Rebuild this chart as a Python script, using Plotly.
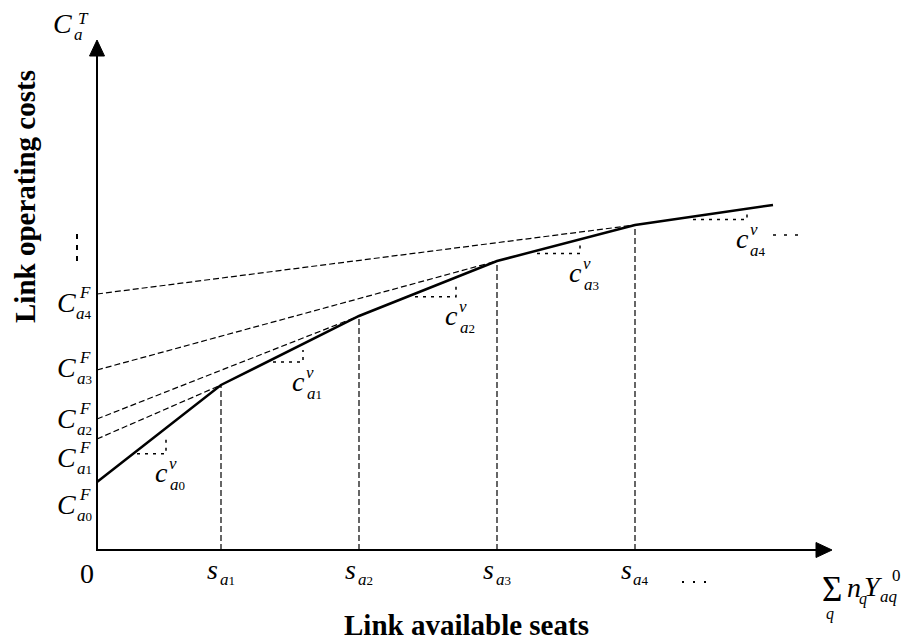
import plotly.graph_objects as go

# ---------------- data (diagram units: 1 unit = 1 px) ----------------
seat_points = [0, 124, 262, 400, 538, 676]        # 0, s_a1..s_a4, end of curve
cost_points = [68, 165, 234, 289, 325, 345]       # total cost at each breakpoint
fixed_costs = [68, 111, 131, 180, 256]            # C_a0^F .. C_a4^F (intercepts)
segment_ids = ["0", "1", "2", "3", "4"]           # subscripts of c_a^v / C_a^F
break_ids = ["1", "2", "3", "4"]                  # subscripts of s_a

# ---------------- layout / style ----------------
PAGE_OFF = 8                 # browser body margin
W, H = 909 - PAGE_OFF, 642 - PAGE_OFF
SX, SY = 97, 550             # screen pixel position of the origin
OX, OY = SX - PAGE_OFF, SY - PAGE_OFF
FONT = "Liberation Serif, Times New Roman, serif"
X_END, Y_END = 735, 510      # axis arrow tips (diagram units)


def X(px):
    return px - SX


def Y(py):
    return SY - py


fig = go.Figure()
ann = []
shapes = []


def text(px, py, s, size, bold=False, angle=0):
    ann.append(dict(x=X(px), y=Y(py), xref="x", yref="y", text=s, showarrow=False,
                    xanchor="center", yanchor="middle", textangle=angle,
                    font=dict(family=FONT, size=size, color="black",
                              weight="bold" if bold else "normal")))


def sub_label(px, py, letter, digit):
    s = "<i>%s</i>" % letter
    if digit:
        s += "<span style='font-size:13px'>%s</span>" % digit
    text(px, py, s, 17)


DASH = dict(color="black", width=1.2, dash="6px,3px")

# ---- main piecewise cost curve ----
fig.add_trace(go.Scatter(x=seat_points, y=cost_points, mode="lines",
                         line=dict(color="black", width=2.5), hoverinfo="skip"))

# ---- dashed lines from fixed-cost intercepts to breakpoints ----
for k in range(1, 5):
    fig.add_trace(go.Scatter(x=[0, seat_points[k]], y=[fixed_costs[k], cost_points[k]],
                             mode="lines", hoverinfo="skip", line=DASH))

# ---- vertical dashed lines at breakpoints ----
for k in range(1, 5):
    fig.add_trace(go.Scatter(x=[seat_points[k], seat_points[k]], y=[0, cost_points[k]],
                             mode="lines", hoverinfo="skip", line=DASH))

# ---- slope hint triangles (dotted) ----
hint_start = [40, 52, 56, 40, 58]
hint_run = [29, 30, 41, 43, 54]
for k in range(5):
    x0, x1 = seat_points[k], seat_points[k + 1]
    y0, y1 = cost_points[k], cost_points[k + 1]
    slope = (y1 - y0) / (x1 - x0)
    xa = x0 + hint_start[k]
    xb = xa + hint_run[k]
    ya = y0 + slope * hint_start[k] - 3
    yb = ya + 0.8 * slope * hint_run[k]
    fig.add_trace(go.Scatter(x=[xa, xb, xb], y=[ya, ya, yb], mode="lines", hoverinfo="skip",
                             line=dict(color="black", width=1.5, dash="3px,5px")))
    # label c_a^v
    cx, cy = xb + SX - 5, SY - ya + 22
    text(cx, cy - 3, "<i>c</i>", 28)
    text(cx + 12, cy - 12, "<i>v</i>", 17)
    sub_label(cx + 16, cy + 9, "a", segment_ids[k])

# ---- axes with arrow heads ----
shapes.append(dict(type="line", xref="x", yref="y", x0=-1, y0=0, x1=X_END - 15, y1=0,
                   line=dict(color="black", width=2)))
shapes.append(dict(type="path", xref="x", yref="y",
                   path="M %d,0 L %d,7.5 L %d,-7.5 Z" % (X_END, X_END - 16, X_END - 16),
                   fillcolor="black", line=dict(color="black", width=1)))
shapes.append(dict(type="line", xref="x", yref="y", x0=0, y0=-1, x1=0, y1=Y_END - 15,
                   line=dict(color="black", width=2)))
shapes.append(dict(type="path", xref="x", yref="y",
                   path="M 0,%d L -7.5,%d L 7.5,%d Z" % (Y_END, Y_END - 16, Y_END - 16),
                   fillcolor="black", line=dict(color="black", width=1)))

# ---- ellipses ----
shapes.append(dict(type="line", xref="x", yref="y", x0=X(77), y0=Y(234), x1=X(77), y1=Y(262),
                   line=dict(color="black", width=2, dash="5px,6px")))
shapes.append(dict(type="line", xref="x", yref="y", x0=X(682), y0=Y(582), x1=X(707), y1=Y(582),
                   line=dict(color="black", width=2, dash="2px,9px")))
shapes.append(dict(type="line", xref="x", yref="y", x0=X(773), y0=Y(235), x1=X(799), y1=Y(235),
                   line=dict(color="black", width=1.5, dash="3px,8px")))

# ---- x tick labels ----
text(87, 573, "0", 28)
for k, sid in enumerate(break_ids):
    sx = seat_points[k + 1] + SX
    text(sx - 9, 569, "<i>s</i>", 28)
    sub_label(sx + 6, 579, "a", sid)

# ---- y tick labels (C_a^F) ----
c_label_y = [504, 457, 418, 367, 302]
for k, sid in enumerate(segment_ids):
    cy = c_label_y[k]
    text(66, cy, "<i>C</i>", 28)
    text(85, cy - 10, "<i>F</i>", 17)
    sub_label(84, cy + 11, "a", sid)

# ---- axis end labels ----
text(62, 23, "<i>C</i>", 28)
text(83, 18, "<i>T</i>", 17)
sub_label(78, 34, "a", "")

text(832, 589, "\u03A3", 35)
text(830, 614, "<i>q</i>", 16)
text(854, 587, "<i>n</i>", 28)
text(863, 599, "<i>q</i>", 16)
text(873, 586, "<i>Y</i>", 28)
text(896, 575, "0", 17)
text(889, 596, "<i>aq</i>", 17)

# ---- axis titles ----
text(466, 625, "Link available seats", 29, bold=True)
text(25, 197, "Link operating costs", 29, bold=True, angle=-90)

fig.update_layout(
    width=W, height=H, autosize=False,
    margin=dict(l=0, r=0, t=0, b=0, pad=0),
    paper_bgcolor="white", plot_bgcolor="white",
    showlegend=False,
    xaxis=dict(range=[-OX, W - OX], visible=False, fixedrange=True),
    yaxis=dict(range=[OY - H, OY], visible=False, fixedrange=True),
    annotations=ann, shapes=shapes,
)

fig.write_html("out.html")
